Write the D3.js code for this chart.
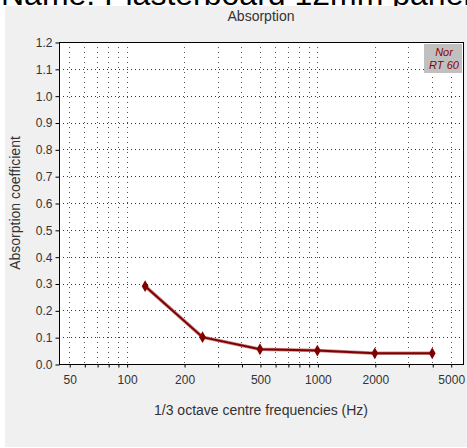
<!DOCTYPE html>
<html>
<head>
<meta charset="utf-8">
<script src="https://cdn.jsdelivr.net/npm/d3@7"></script>
<style>
  body { margin: 0; background: #ffffff; }
  svg { display: block; font-family: "Liberation Sans", Arial, sans-serif; }
</style>
</head>
<body>
<div id="chart"></div>
<script>
// Data
const frequencies = [125, 250, 500, 1000, 2000, 4000];
const absorption = [0.29, 0.10, 0.055, 0.05, 0.04, 0.04];
const xTickLabels = [50, 100, 200, 500, 1000, 2000, 5000];
const xGridValues = [50, 60, 70, 80, 90, 100, 200, 300, 400, 500, 600, 700, 800, 900, 1000, 2000, 3000, 4000, 5000];
const yTickValues = [0, 0.1, 0.2, 0.3, 0.4, 0.5, 0.6, 0.7, 0.8, 0.9, 1.0, 1.1, 1.2];
const legendLines = ['Nor', 'RT 60'];

const width = 467;
const height = 448;
const plot = { left: 59, right: 463, top: 42, bottom: 364 };

const svg = d3.select('#chart')
    .append('svg')
    .attr('width', width)
    .attr('height', height);

// Big (cut off) name heading behind the panel
svg.append('text')
    .attr('x', 1)
    .attr('y', 5)
    .style('font-size', '32px')
    .style('fill', '#000')
    .text('Name: Plasterboard 12mm panel');

// Grey panel
svg.append('rect')
    .attr('x', 5)
    .attr('y', 6)
    .attr('width', width - 5)
    .attr('height', 441)
    .attr('fill', '#f0f0f0');

// Scales
const x = d3.scaleLog()
    .domain([44.2, 5800])
    .range([plot.left, plot.right]);

const y = d3.scaleLinear()
    .domain([0, 1.2])
    .range([plot.bottom, plot.top]);

// Plot background
svg.append('rect')
    .attr('x', plot.left)
    .attr('y', plot.top)
    .attr('width', plot.right - plot.left)
    .attr('height', plot.bottom - plot.top)
    .attr('fill', '#ffffff');

// Vertical grid
svg.append('g')
    .selectAll('line')
    .data(xGridValues)
    .enter()
    .append('line')
    .attr('x1', d => Math.round(x(d)) + 0.5)
    .attr('x2', d => Math.round(x(d)) + 0.5)
    .attr('y1', plot.top)
    .attr('y2', plot.bottom)
    .attr('stroke', '#555')
    .attr('stroke-width', 1)
    .attr('stroke-dasharray', '1,4');

// Horizontal grid
svg.append('g')
    .selectAll('line')
    .data(yTickValues.slice(1, -1))
    .enter()
    .append('line')
    .attr('x1', plot.left)
    .attr('x2', plot.right)
    .attr('y1', d => Math.round(y(d)) + 0.5)
    .attr('y2', d => Math.round(y(d)) + 0.5)
    .attr('stroke', '#333')
    .attr('stroke-width', 1)
    .attr('stroke-dasharray', '1,3');

// Y axis
const yAxis = svg.append('g')
    .attr('transform', `translate(${plot.left + 0.5}, 0.5)`)
    .call(d3.axisLeft(y).tickValues(yTickValues).tickSize(4).tickPadding(3).tickFormat(d3.format('.1f')));
yAxis.select('.domain').remove();
yAxis.selectAll('line').attr('stroke', '#000');
yAxis.selectAll('text').style('font-size', '12px').style('fill', '#333');

// X axis
const xAxis = svg.append('g')
    .attr('transform', `translate(0.5, ${plot.bottom + 0.5})`)
    .call(d3.axisBottom(x).tickValues(xGridValues).tickSize(3).tickPadding(8)
        .tickFormat(d => xTickLabels.includes(d) ? d : ''));
xAxis.select('.domain').remove();
xAxis.selectAll('line').attr('stroke', '#000');
xAxis.selectAll('text').style('font-size', '12px').style('fill', '#333');

// Frame
svg.append('rect')
    .attr('x', plot.left + 0.5)
    .attr('y', plot.top + 0.5)
    .attr('width', plot.right - plot.left)
    .attr('height', plot.bottom - plot.top)
    .attr('fill', 'none')
    .attr('stroke', '#000');

const points = frequencies.map((f, i) => ({ f: f, v: absorption[i] }));

const line = d3.line()
    .x(d => x(d.f))
    .y(d => y(d.v));

// Soft halo under the line
svg.append('path')
    .datum(points)
    .attr('fill', 'none')
    .attr('stroke', '#c98a8a')
    .attr('stroke-width', 3.5)
    .attr('d', line);

svg.append('path')
    .datum(points)
    .attr('fill', 'none')
    .attr('stroke', '#800000')
    .attr('stroke-width', 2)
    .attr('d', line);

svg.append('g')
    .selectAll('path')
    .data(points)
    .enter()
    .append('path')
    .attr('transform', d => `translate(${x(d.f)}, ${y(d.v)})`)
    .attr('d', d3.symbol().type(d3.symbolDiamond).size(40))
    .attr('fill', '#800000');

// Legend box
svg.append('rect')
    .attr('x', 424)
    .attr('y', 44)
    .attr('width', 38)
    .attr('height', 29)
    .attr('fill', '#c0c0c0');

svg.append('g')
    .selectAll('text')
    .data(legendLines)
    .enter()
    .append('text')
    .attr('x', 444)
    .attr('y', (d, i) => 56 + i * 13)
    .attr('text-anchor', 'middle')
    .style('font-size', '11px')
    .style('font-style', 'italic')
    .style('fill', '#8b0000')
    .text(d => d);

// Titles
svg.append('text')
    .attr('x', 261)
    .attr('y', 21)
    .attr('text-anchor', 'middle')
    .style('font-size', '14px')
    .style('fill', '#333')
    .text('Absorption');

svg.append('text')
    .attr('x', 261)
    .attr('y', 415)
    .attr('text-anchor', 'middle')
    .style('font-size', '14px')
    .style('fill', '#333')
    .text('1/3 octave centre frequencies (Hz)');

svg.append('text')
    .attr('transform', 'translate(20, 203) rotate(-90)')
    .attr('text-anchor', 'middle')
    .style('font-size', '14px')
    .style('fill', '#333')
    .text('Absorption coefficient');
</script>
</body>
</html>
